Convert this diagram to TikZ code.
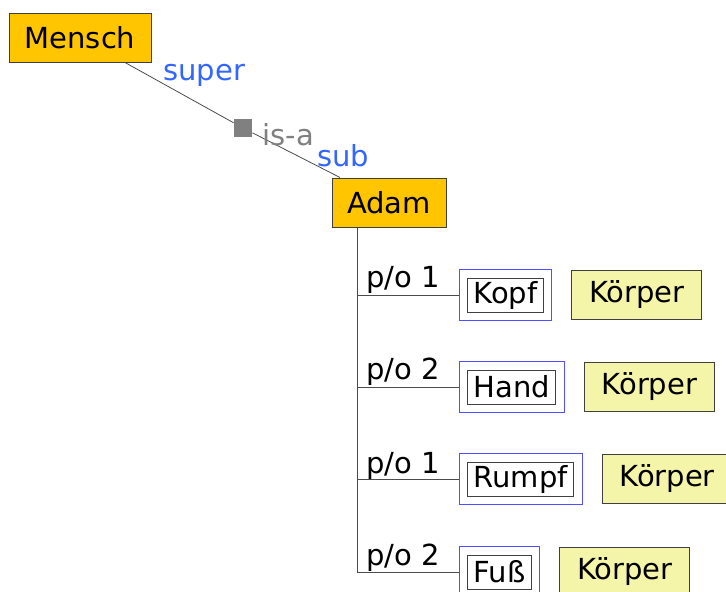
\documentclass[tikz,border=0pt]{standalone}
\usepackage{fontspec}
\setmainfont{DejaVu Sans}
\usetikzlibrary{positioning,fit}
\definecolor{conceptorange}{RGB}{255,198,0}
\definecolor{kindyellow}{RGB}{245,245,170}
\definecolor{roleblue}{RGB}{51,102,255}
\definecolor{partblue}{RGB}{80,80,255}
\definecolor{linkgray}{RGB}{128,128,128}
\tikzset{
  concept/.style={draw=black!75, fill=conceptorange, line width=0.5pt, minimum height=24.5pt, inner sep=0pt},
  kind/.style={draw=black!75, fill=kindyellow, line width=0.5pt, minimum width=65pt, minimum height=24.5pt, inner sep=0pt},
  part/.style={draw=black!75, line width=0.5pt, minimum height=17pt, inner xsep=3pt, inner ysep=0pt},
  partbox/.style={draw=partblue, line width=0.5pt, inner sep=4pt},
  role/.style={text=roleblue, anchor=base west, inner sep=0pt},
  polabel/.style={anchor=base west, inner sep=0pt},
  link/.style={line width=0.5pt, black!70}
}
\begin{document}
\begin{tikzpicture}[x=0.5pt, y=-0.5pt, font=\fontsize{14.5}{17}\selectfont]
                \clip (0,0) rectangle (726,591);

                \node[concept, minimum width=71pt] (mensch) at (80,37.5) {Mensch};
                \node[concept, minimum width=57pt] (adam) at (389,202.5) {Adam};
                \node[fill=linkgray, minimum size=9pt, inner sep=0pt] (isa) at (243,128) {};

                \draw[line width=0.4pt, black!70] (mensch) -- (isa) -- (adam);

                \node[role] (super) at (163,80) {super};
                \node[polabel, text=linkgray] (isalabel) at (262,145) {is-a};
                \node[role] (sub) at (317,166) {sub};

                \coordinate (root) at ([xshift=13pt]adam.south west);

                \node[part, anchor=west] (kopf) at (467,295) {Kopf};
                \node[partbox, fit=(kopf)] (kopfbox) {};
                \node[kind, right=9.5pt of kopfbox] (koerper1) {Körper};

                \node[part, anchor=west] (hand) at (467,387) {Hand};
                \node[partbox, fit=(hand)] (handbox) {};
                \node[kind, right=9.5pt of handbox] (koerper2) {Körper};

                \node[part, anchor=west] (rumpf) at (467,479) {Rumpf};
                \node[partbox, fit=(rumpf)] (rumpfbox) {};
                \node[kind, right=9.5pt of rumpfbox] (koerper3) {Körper};

                \node[part, anchor=west] (fuss) at (467,572) {Fuß};
                \node[partbox, fit=(fuss)] (fussbox) {};
                \node[kind, right=9.5pt of fussbox] (koerper4) {Körper};

                \draw[link] (root) |- (kopfbox.west);
                \draw[link] (root) |- (handbox.west);
                \draw[link] (root) |- (rumpfbox.west);
                \draw[link] (root) |- (fussbox.west);

                \node[polabel] (po1) at (366,287) {p/o 1};
                \node[polabel] (po2) at (366,379) {p/o 2};
                \node[polabel] (po3) at (366,473) {p/o 1};
                \node[polabel] (po4) at (366,565) {p/o 2};
            \end{tikzpicture}
\end{document}
